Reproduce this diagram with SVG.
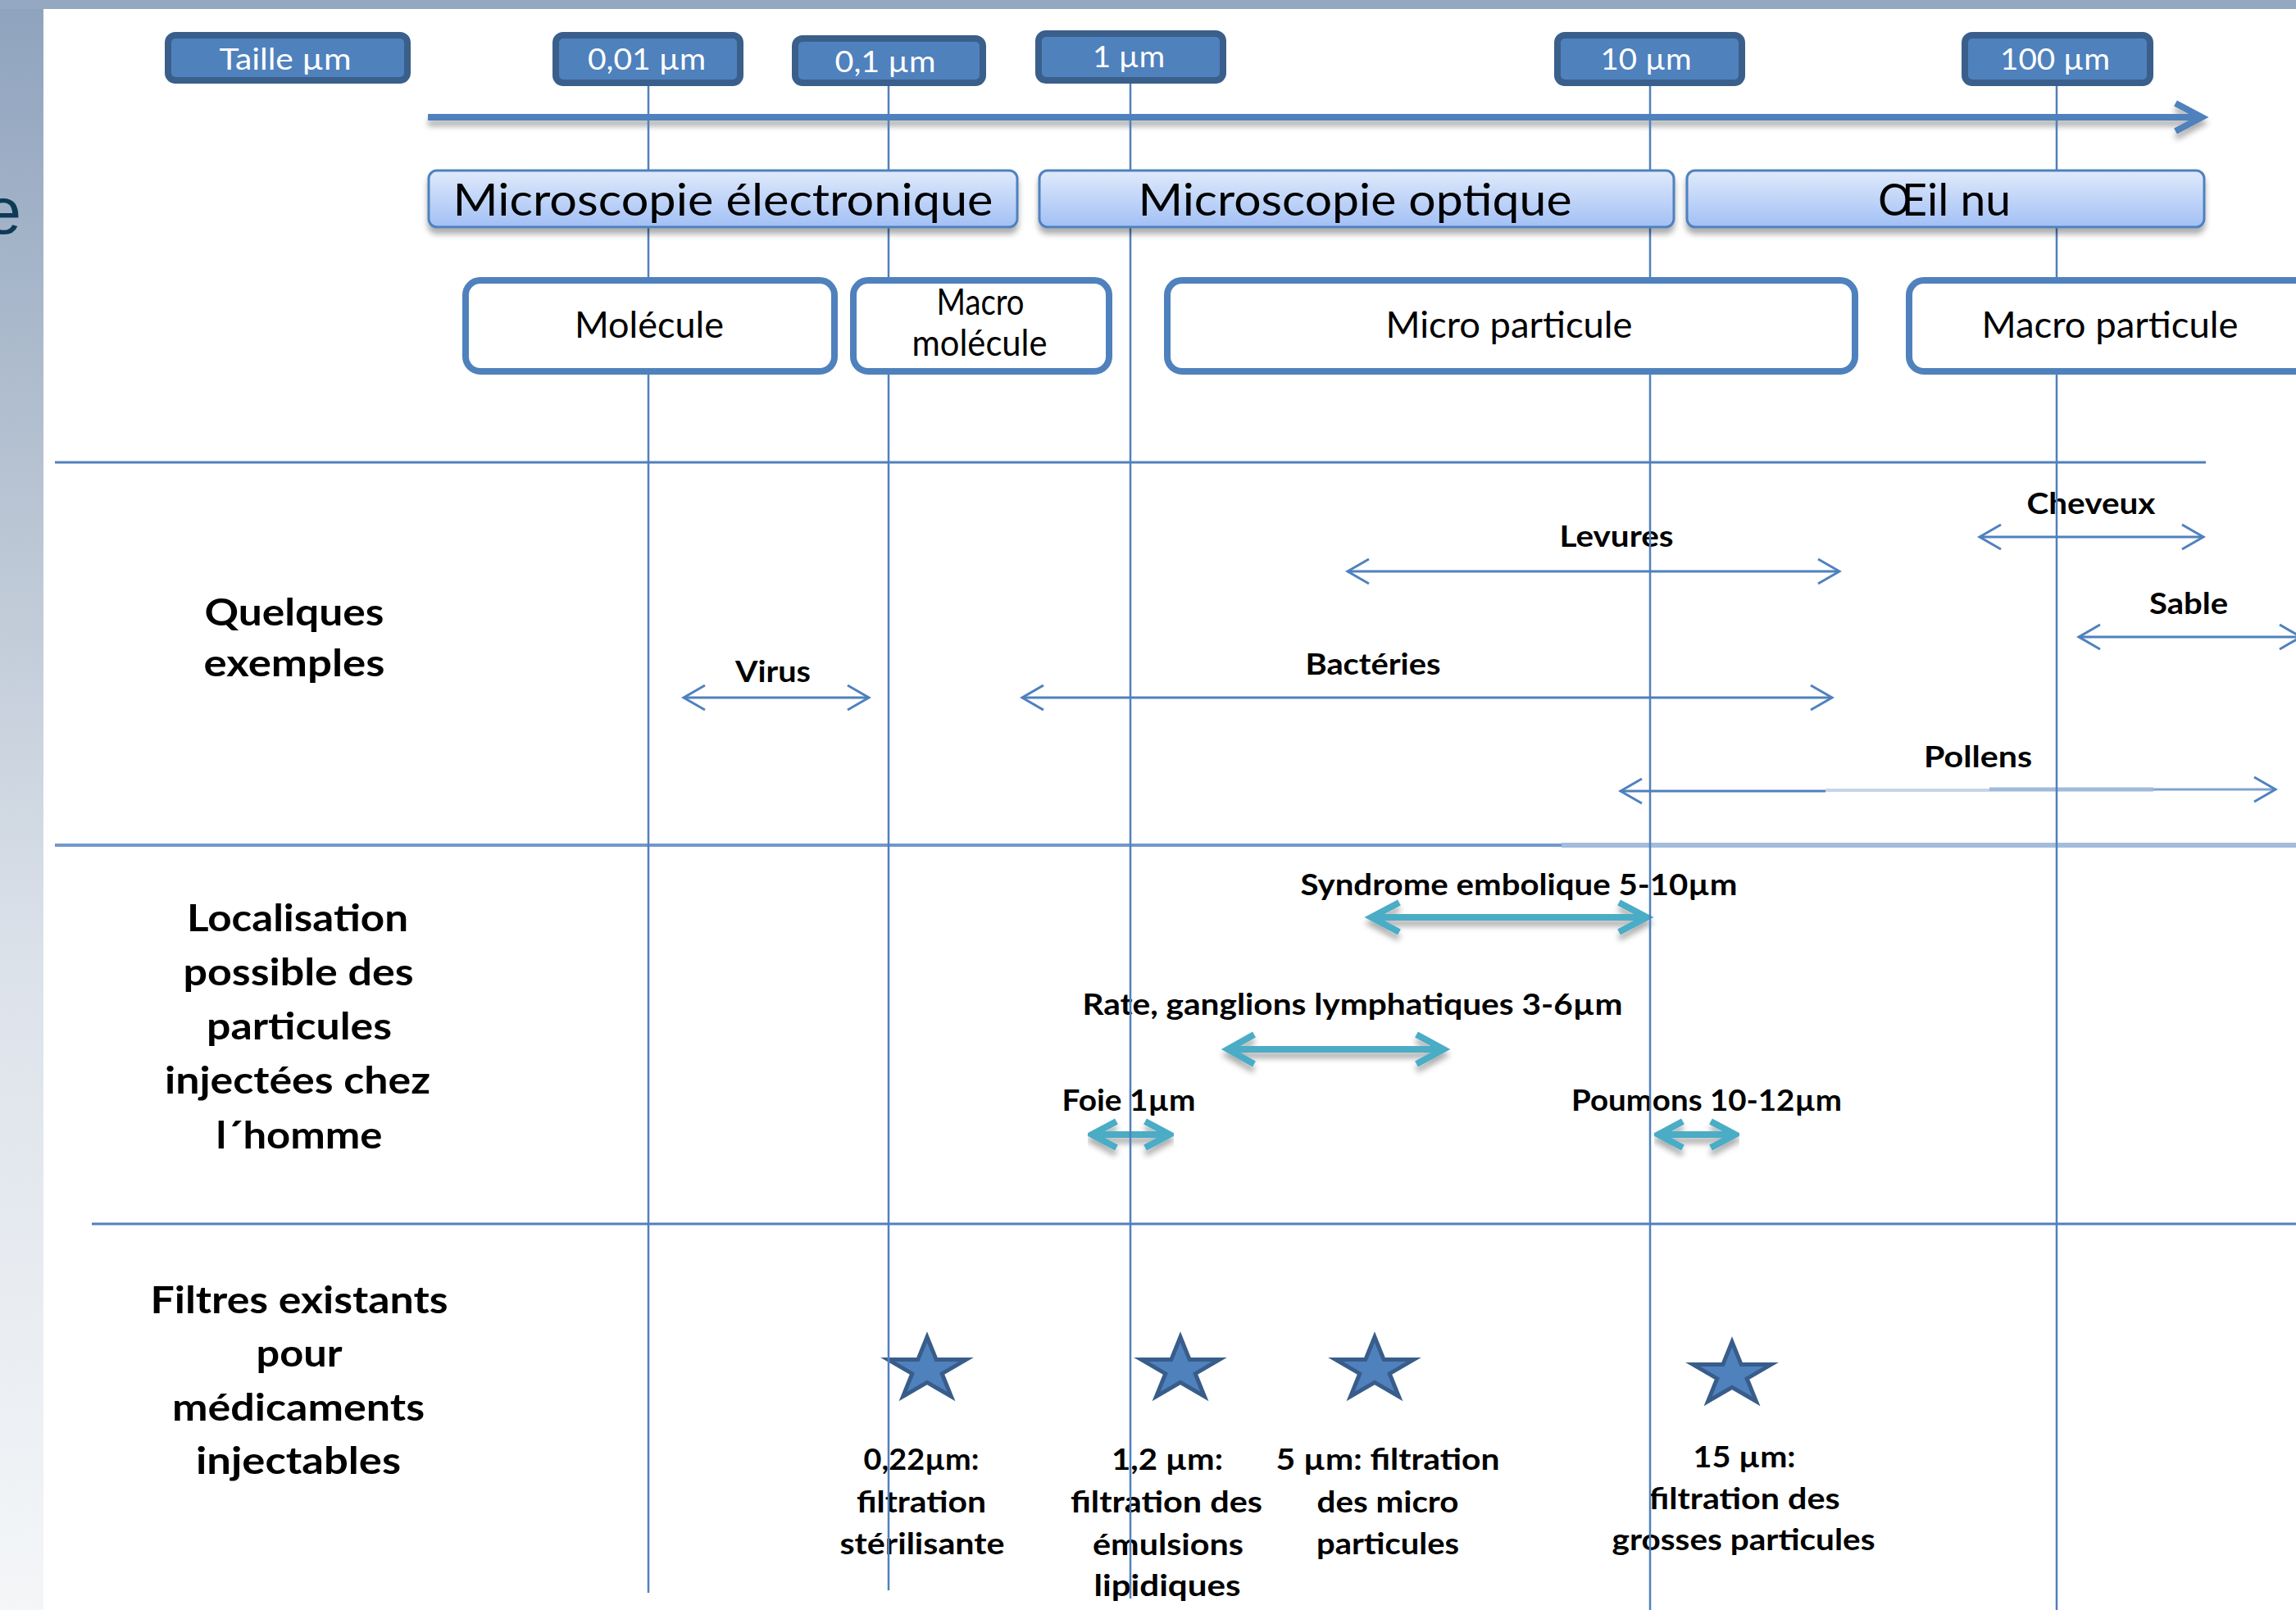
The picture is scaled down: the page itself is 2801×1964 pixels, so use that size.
<svg xmlns="http://www.w3.org/2000/svg" xmlns:xlink="http://www.w3.org/1999/xlink" width="2801" height="1964" viewBox="0 0 2801 1964">
<defs>
<linearGradient id="strip" x1="0" y1="0" x2="0" y2="1">
<stop offset="0" stop-color="#8FA3BE"/>
<stop offset="0.3" stop-color="#B7C3D2"/>
<stop offset="0.6" stop-color="#DCE2EA"/>
<stop offset="1" stop-color="#F4F6F8"/>
</linearGradient>
<linearGradient id="micro" x1="0" y1="0" x2="0" y2="1">
<stop offset="0" stop-color="#E0EAFB"/>
<stop offset="1" stop-color="#A2C0F5"/>
</linearGradient>
<filter id="shadow" x="-5%" y="-50%" width="110%" height="200%">
<feDropShadow dx="0" dy="7" stdDeviation="3.5" flood-color="#000" flood-opacity="0.32"/>
</filter>
<path id="star" d="M0,-40 L11.2,-12.4 L47.6,-12.4 L18.2,4.7 L29.4,32.4 L0,15.3 L-29.4,32.4 L-18.2,4.7 L-47.6,-12.4 L-11.2,-12.4 Z"/>
<marker id="chev" viewBox="-32 -20 36 40" markerWidth="36" markerHeight="40" refX="0" refY="0" markerUnits="userSpaceOnUse" orient="auto-start-reverse">
<path d="M-26,-15 L0,0 L-26,15" fill="none" stroke="#4F81BD" stroke-width="3"/>
</marker>
<style>
.hdr rect{fill:#4F81BD;stroke:#3A5F8B;stroke-width:8}
.hdr text{font-family:Lato,"Open Sans",sans-serif;font-size:37px;fill:#FFFFFF;text-anchor:middle}
.mic rect{fill:url(#micro);stroke:#4F81BD;stroke-width:3}
.mic text{font-family:Lato,"Open Sans",sans-serif;font-size:54px;fill:#000;text-anchor:middle}
.par rect{fill:#FFFFFF;stroke:#4F81BD;stroke-width:8}
.par text{font-family:Lato,"Open Sans",sans-serif;font-size:44px;fill:#000;text-anchor:middle}
.lbl{font-family:Lato,"Open Sans",sans-serif;font-weight:bold;font-size:46px;fill:#000;text-anchor:middle}
.sm{font-family:Lato,"Open Sans",sans-serif;font-weight:bold;font-size:36px;fill:#000;text-anchor:middle}
.thin{stroke:#4F81BD;stroke-width:3;fill:none;marker-start:url(#chev);marker-end:url(#chev)}
.teal{stroke:#4BACC6;stroke-width:8;fill:none;stroke-linejoin:miter}
.sep{stroke:#4F81BD;stroke-width:3}
.vl{stroke:#4F81BD;stroke-width:2.5}
.star{fill:#4F81BD;stroke:#385D8A;stroke-width:5;stroke-linejoin:miter}
</style>
</defs>

<!-- background -->
<rect x="0" y="0" width="2801" height="1964" fill="#FFFFFF"/>
<rect x="0" y="0" width="53" height="1964" fill="url(#strip)"/>
<rect x="0" y="0" width="2801" height="11" fill="#95A8C1"/>
<text x="26" y="285" font-family="'Liberation Sans',sans-serif" font-size="80" fill="#0F3A55" text-anchor="end">e</text>

<!-- separators -->
<g id="separators">
<line class="sep" x1="67" y1="564" x2="2691" y2="564"/>
<line x1="67" y1="1031" x2="1905" y2="1031" stroke="#7098CB" stroke-width="4"/>
<line x1="1905" y1="1031" x2="2801" y2="1031" stroke="#A3BCDC" stroke-width="6"/>
<line class="sep" x1="112" y1="1493" x2="2801" y2="1493"/>
</g>

<!-- axis arrow -->
<g id="axis" filter="url(#shadow)">
<line x1="522" y1="143" x2="2684" y2="143" stroke="#4F81BD" stroke-width="8"/>
<path d="M2654,126 L2686,143 L2654,160" fill="none" stroke="#4F81BD" stroke-width="8" stroke-linejoin="miter"/>
</g>

<!-- row labels -->
<g id="row-exemples">
<text class="lbl" x="359" y="763" textLength="219" lengthAdjust="spacingAndGlyphs">Quelques</text>
<text class="lbl" x="359" y="825" textLength="221" lengthAdjust="spacingAndGlyphs">exemples</text>
</g>
<g id="row-localisation">
<text class="lbl" x="363" y="1136" textLength="270" lengthAdjust="spacingAndGlyphs">Localisation</text>
<text class="lbl" x="364" y="1202" textLength="281" lengthAdjust="spacingAndGlyphs">possible des</text>
<text class="lbl" x="365" y="1268" textLength="226" lengthAdjust="spacingAndGlyphs">particules</text>
<text class="lbl" x="363" y="1334" textLength="324" lengthAdjust="spacingAndGlyphs">injectées chez</text>
<text class="lbl" x="365" y="1401" textLength="203" lengthAdjust="spacingAndGlyphs">l´homme</text>
</g>
<g id="row-filtres">
<text class="lbl" x="365" y="1602" textLength="363" lengthAdjust="spacingAndGlyphs">Filtres existants</text>
<text class="lbl" x="365" y="1667" textLength="105" lengthAdjust="spacingAndGlyphs">pour</text>
<text class="lbl" x="364" y="1733" textLength="308" lengthAdjust="spacingAndGlyphs">médicaments</text>
<text class="lbl" x="364" y="1798" textLength="250" lengthAdjust="spacingAndGlyphs">injectables</text>
</g>

<!-- examples -->
<g id="ex-virus">
<text class="sm" x="943" y="832" textLength="92" lengthAdjust="spacingAndGlyphs">Virus</text>
<line class="thin" x1="834" y1="851" x2="1060" y2="851"/>
</g>
<g id="ex-bacteries">
<text class="sm" x="1675" y="823" textLength="165" lengthAdjust="spacingAndGlyphs">Bactéries</text>
<line class="thin" x1="1247" y1="851" x2="2235" y2="851"/>
</g>
<g id="ex-levures">
<text class="sm" x="1972" y="667" textLength="139" lengthAdjust="spacingAndGlyphs">Levures</text>
<line class="thin" x1="1644" y1="697" x2="2244" y2="697"/>
</g>
<g id="ex-cheveux">
<text class="sm" x="2551" y="627" textLength="157" lengthAdjust="spacingAndGlyphs">Cheveux</text>
<line class="thin" x1="2415" y1="655" x2="2688" y2="655"/>
</g>
<g id="ex-sable">
<text class="sm" x="2670" y="749" textLength="96" lengthAdjust="spacingAndGlyphs">Sable</text>
<line class="thin" x1="2536" y1="777" x2="2807" y2="777"/>
</g>
<g id="ex-pollens">
<text class="sm" x="2413" y="936" textLength="132" lengthAdjust="spacingAndGlyphs">Pollens</text>
<line x1="1977" y1="965" x2="2227" y2="965" stroke="#4F81BD" stroke-width="3" marker-start="url(#chev)"/>
<line x1="2227" y1="964" x2="2427" y2="964" stroke="#C5D4E9" stroke-width="4"/>
<line x1="2427" y1="963" x2="2627" y2="963" stroke="#A0BADB" stroke-width="5"/>
<line x1="2627" y1="963" x2="2776" y2="963" stroke="#7FA2D1" stroke-width="3" marker-end="url(#chev)"/>
</g>

<!-- localisation -->
<g id="loc-syndrome">
<text class="sm" x="1853" y="1092" font-size="37" textLength="533" lengthAdjust="spacingAndGlyphs">Syndrome embolique 5-10µm</text>
<g filter="url(#shadow)">
<path class="teal" d="M1678,1119 L2004,1119 M1707,1101 L1673,1119 L1707,1137 M1975,1101 L2009,1119 L1975,1137"/>
</g>
</g>
<g id="loc-rate">
<text class="sm" x="1650" y="1238" font-size="37" textLength="659" lengthAdjust="spacingAndGlyphs">Rate, ganglions lymphatiques 3-6µm</text>
<g filter="url(#shadow)">
<path class="teal" d="M1503,1280 L1756,1280 M1530,1262 L1498,1280 L1530,1298 M1728,1262 L1761,1280 L1728,1298"/>
</g>
</g>
<g id="loc-foie">
<text class="sm" x="1377" y="1355" font-size="37" textLength="163" lengthAdjust="spacingAndGlyphs">Foie 1µm</text>
<g filter="url(#shadow)">
<path class="teal" d="M1336,1384 L1423,1384 M1362,1368 L1332,1384 L1362,1400 M1397,1368 L1427,1384 L1397,1400"/>
</g>
</g>
<g id="loc-poumons">
<text class="sm" x="2082" y="1355" font-size="37" textLength="330" lengthAdjust="spacingAndGlyphs">Poumons 10-12µm</text>
<g filter="url(#shadow)">
<path class="teal" d="M2027,1384 L2113,1384 M2053,1368 L2023,1384 L2053,1400 M2087,1368 L2117,1384 L2087,1400"/>
</g>
</g>

<!-- filters -->
<g id="filtre-022">
<use href="#star" class="star" x="1131" y="1671"/>
<text class="sm" x="1124" y="1793" textLength="141" lengthAdjust="spacingAndGlyphs">0,22µm:</text>
<text class="sm" x="1124" y="1845" textLength="158" lengthAdjust="spacingAndGlyphs">filtration</text>
<text class="sm" x="1125" y="1896" textLength="201" lengthAdjust="spacingAndGlyphs">stérilisante</text>
</g>
<g id="filtre-12">
<use href="#star" class="star" x="1440" y="1671"/>
<text class="sm" x="1424" y="1793" textLength="136" lengthAdjust="spacingAndGlyphs">1,2 µm:</text>
<text class="sm" x="1423" y="1845" textLength="234" lengthAdjust="spacingAndGlyphs">filtration des</text>
<text class="sm" x="1425" y="1897" textLength="184" lengthAdjust="spacingAndGlyphs">émulsions</text>
<text class="sm" x="1424" y="1947" textLength="179" lengthAdjust="spacingAndGlyphs">lipidiques</text>
</g>
<g id="filtre-5">
<use href="#star" class="star" x="1677" y="1671"/>
<text class="sm" x="1693" y="1793" textLength="273" lengthAdjust="spacingAndGlyphs">5 µm: filtration</text>
<text class="sm" x="1693" y="1845" textLength="173" lengthAdjust="spacingAndGlyphs">des micro</text>
<text class="sm" x="1693" y="1896" textLength="174" lengthAdjust="spacingAndGlyphs">particules</text>
</g>
<g id="filtre-15">
<use href="#star" class="star" x="2113" y="1677"/>
<text class="sm" x="2128" y="1790" textLength="125" lengthAdjust="spacingAndGlyphs">15 µm:</text>
<text class="sm" x="2128" y="1841" textLength="233" lengthAdjust="spacingAndGlyphs">filtration des</text>
<text class="sm" x="2127" y="1891" textLength="321" lengthAdjust="spacingAndGlyphs">grosses particules</text>
</g>

<!-- vertical scale lines (connectors) -->
<g id="connectors">
<line class="vl" x1="791" y1="100" x2="791" y2="1943"/>
<line class="vl" x1="1084" y1="104" x2="1084" y2="1940" stroke="#7097CB"/>
<line class="vl" x1="1379" y1="100" x2="1379" y2="1950"/>
<line class="vl" x1="2013" y1="104" x2="2013" y2="1964" stroke="#86A8D4" stroke-width="3"/>
<line class="vl" x1="2509" y1="104" x2="2509" y2="1964"/>
</g>

<!-- header size boxes -->
<g id="h-taille" class="hdr"><rect x="205" y="43" width="292" height="55" rx="9"/><text x="348" y="85" textLength="161" lengthAdjust="spacingAndGlyphs">Taille µm</text></g>
<g id="h-001" class="hdr"><rect x="678" y="43" width="225" height="58" rx="9"/><text x="789" y="85" textLength="144" lengthAdjust="spacingAndGlyphs">0,01 µm</text></g>
<g id="h-01" class="hdr"><rect x="970" y="47" width="229" height="54" rx="9"/><text x="1080" y="88" textLength="123" lengthAdjust="spacingAndGlyphs">0,1 µm</text></g>
<g id="h-1" class="hdr"><rect x="1267" y="41" width="225" height="57" rx="9"/><text x="1377" y="82" textLength="88" lengthAdjust="spacingAndGlyphs">1 µm</text></g>
<g id="h-10" class="hdr"><rect x="1900" y="43" width="225" height="58" rx="9"/><text x="2008" y="85" textLength="111" lengthAdjust="spacingAndGlyphs">10 µm</text></g>
<g id="h-100" class="hdr"><rect x="2397" y="43" width="226" height="58" rx="9"/><text x="2507" y="85" textLength="134" lengthAdjust="spacingAndGlyphs">100 µm</text></g>

<!-- microscopy boxes -->
<g id="m-electronique" class="mic" filter="url(#shadow)"><rect x="523" y="208" width="718" height="69" rx="10"/><text x="882" y="263" textLength="659" lengthAdjust="spacingAndGlyphs">Microscopie électronique</text></g>
<g id="m-optique" class="mic" filter="url(#shadow)"><rect x="1268" y="208" width="774" height="69" rx="10"/><text x="1653" y="263" textLength="529" lengthAdjust="spacingAndGlyphs">Microscopie optique</text></g>
<g id="m-oeil" class="mic" filter="url(#shadow)"><rect x="2058" y="208" width="631" height="69" rx="10"/><text x="2372" y="263" textLength="162" lengthAdjust="spacingAndGlyphs">Œil nu</text></g>

<!-- particle boxes -->
<g id="p-molecule" class="par"><rect x="568" y="342" width="450" height="111" rx="18"/><text x="792" y="412" textLength="182" lengthAdjust="spacingAndGlyphs">Molécule</text></g>
<g id="p-macromolecule" class="par"><rect x="1041" y="342" width="312" height="111" rx="18"/><text x="1196" y="384" font-size="35" textLength="107" lengthAdjust="spacingAndGlyphs">Macro</text><text x="1195" y="434" font-size="35" textLength="165" lengthAdjust="spacingAndGlyphs">molécule</text></g>
<g id="p-microparticule" class="par"><rect x="1424" y="342" width="839" height="111" rx="18"/><text x="1841" y="412" textLength="301" lengthAdjust="spacingAndGlyphs">Micro particule</text></g>
<g id="p-macroparticule" class="par"><rect x="2329" y="342" width="520" height="111" rx="18"/><text x="2574" y="412" textLength="313" lengthAdjust="spacingAndGlyphs">Macro particule</text></g>
</svg>
